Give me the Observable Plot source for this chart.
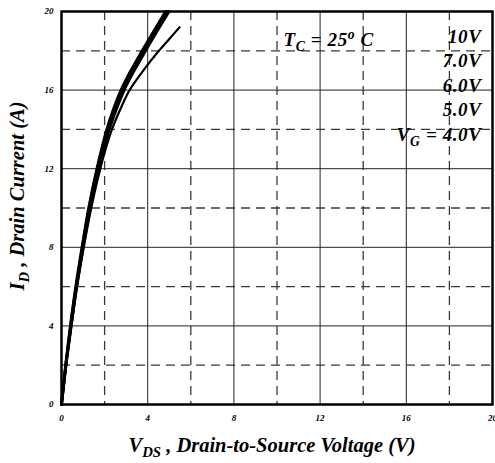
<!DOCTYPE html>
<html><head><meta charset="utf-8">
<script src="https://cdn.jsdelivr.net/npm/d3@7"></script>
<script src="https://cdn.jsdelivr.net/npm/@observablehq/plot@0.6"></script>
<style>
html,body{margin:0;padding:0;background:#fff}
svg{display:block}
</style>
</head><body><div id="chart"></div>
<script>
// ---- data ----
const xTicks = [0, 4, 8, 12, 16, 20];
const yTicks = [0, 4, 8, 12, 16, 20];
const majorGrid = [4, 8, 12, 16];
const minorGrid = [2, 6, 10, 14, 18];
const seriesNames = ["10V", "7.0V", "6.0V", "5.0V", "4.0V"];
const idHigh = [0, 2, 4, 6, 8, 10, 12, 13, 14, 15, 16, 17, 18, 19, 20];
const vds10 = [0, 0.19, 0.41, 0.66, 0.95, 1.26, 1.64, 1.86, 2.10, 2.40, 2.76, 3.22, 3.74, 4.28, 4.83];
const vds7  = [0, 0.20, 0.42, 0.68, 0.97, 1.28, 1.67, 1.89, 2.13, 2.44, 2.80, 3.27, 3.79, 4.33, 4.88];
const vds6  = [0, 0.20, 0.44, 0.69, 0.99, 1.31, 1.70, 1.92, 2.17, 2.48, 2.85, 3.32, 3.84, 4.38, 4.93];
const vds5  = [0, 0.21, 0.45, 0.71, 1.01, 1.34, 1.74, 1.97, 2.22, 2.54, 2.91, 3.38, 3.90, 4.44, 4.99];
const id4   = [0, 2, 4, 6, 8, 10, 12, 13, 14, 15, 16, 17, 18, 18.6, 19.2];
const vds4  = [0, 0.21, 0.46, 0.72, 1.03, 1.38, 1.80, 2.05, 2.34, 2.72, 3.16, 3.80, 4.52, 5.00, 5.48];
const labelTexts = ["10V", "7.0V", "6.0V", "5.0V", "VG = 4.0V"];
const tempText = "TC = 25o C";
const xTitle = "VDS , Drain-to-Source Voltage (V)";
const yTitle = "ID , Drain Current (A)";

// ---- build table ----
const seriesX = [vds10, vds7, vds6, vds5, vds4];
const seriesY = [idHigh, idHigh, idHigh, idHigh, id4];
const curves = [];
seriesNames.forEach((s, i) => seriesX[i].forEach((v, j) => curves.push({vg: s, vds: v, id: seriesY[i][j]})));
const thick = curves.filter(d => d.vg !== "4.0V");
const thin = curves.filter(d => d.vg === "4.0V");

const FONT = "Liberation Serif, Times New Roman, serif";
const tf = {fontFamily: FONT, fontWeight: "bold", fontStyle: "italic"};

const chart = Plot.plot({
  width: 495, height: 463,
  marginLeft: 61, marginRight: 3, marginTop: 11, marginBottom: 59,
  x: {domain: [0, 20]},
  y: {domain: [0, 20]},
  style: {background: "#fff", fontFamily: FONT},
  marks: [
    Plot.ruleX(minorGrid, {stroke: "#3a3a3a", strokeWidth: 1.3, strokeDasharray: "9,6"}),
    Plot.ruleY(minorGrid, {stroke: "#3a3a3a", strokeWidth: 1.3, strokeDasharray: "9,6"}),
    Plot.ruleX(majorGrid, {stroke: "#222", strokeWidth: 1}),
    Plot.ruleY(majorGrid, {stroke: "#222", strokeWidth: 1}),
    Plot.line(thin, {x: "vds", y: "id", z: "vg", stroke: "#000", strokeWidth: 2.2, curve: "monotone-y", strokeLinecap: "round"}),
    Plot.line(thick, {x: "vds", y: "id", z: "vg", stroke: "#000", strokeWidth: 2.8, curve: "monotone-y", strokeLinecap: "round"}),
    Plot.frame({stroke: "#000", strokeWidth: 2.5}),
    Plot.axisX(xTicks, {tickSize: 0, tickPadding: 10, fontSize: 9, ...tf, label: null}),
    Plot.axisY(yTicks, {tickSize: 0, tickPadding: 8, fontSize: 9, ...tf, label: null}),
    Plot.text([xTitle], {frameAnchor: "bottom", lineAnchor: "bottom", dy: 47, dx: -5, fontSize: 20.5, ...tf, fill: "#000", className: "xtitle"}),
    Plot.text([yTitle], {frameAnchor: "left", textAnchor: "middle", rotate: -90, dx: -44, dy: -12, fontSize: 20.5, ...tf, fill: "#000", className: "ytitle"}),
    Plot.text([tempText], {frameAnchor: "top-left", textAnchor: "start", lineAnchor: "bottom", dx: 222, dy: 34, fontSize: 19, ...tf, fill: "#000", className: "temp"}),
    ...labelTexts.map((t, i) => Plot.text([t], {frameAnchor: "top-right", textAnchor: "end", lineAnchor: "bottom", dx: -11, dy: 31 + i * 24.6, fontSize: 19, ...tf, fill: "#000", className: "vg" + i}))
  ]
});
document.getElementById("chart").appendChild(chart);

// ---- rich text (subscripts / superscripts) ----
function rich(cls, parts) {
  const t = d3.select(chart).select("g." + cls + " text");
  if (t.empty()) return;
  t.text(null);
  parts.forEach(([s, kind]) => {
    const ts = t.append("tspan").text(s);
    if (kind === "sub") ts.attr("font-size", "0.72em").attr("dy", "5");
    if (kind === "sup") ts.attr("font-size", "0.72em").attr("dy", "-7");
    if (kind === "after-sub") ts.attr("dy", "-5");
    if (kind === "after-sup") ts.attr("dy", "7");
  });
}
d3.select(chart).selectAll("g.temp text, g[class^='vg'] text").style("letter-spacing", "0.6px");
rich("xtitle", [["V", ""], ["DS", "sub"], [" , Drain-to-Source Voltage (V)", "after-sub"]]);
rich("ytitle", [["I", ""], ["D", "sub"], [" , Drain Current (A)", "after-sub"]]);
rich("temp", [["T", ""], ["C", "sub"], [" = 25", "after-sub"], ["o", "sup"], [" C", "after-sup"]]);
rich("vg4", [["V", ""], ["G", "sub"], [" = 4.0V", "after-sub"]]);
</script>
</body></html>
